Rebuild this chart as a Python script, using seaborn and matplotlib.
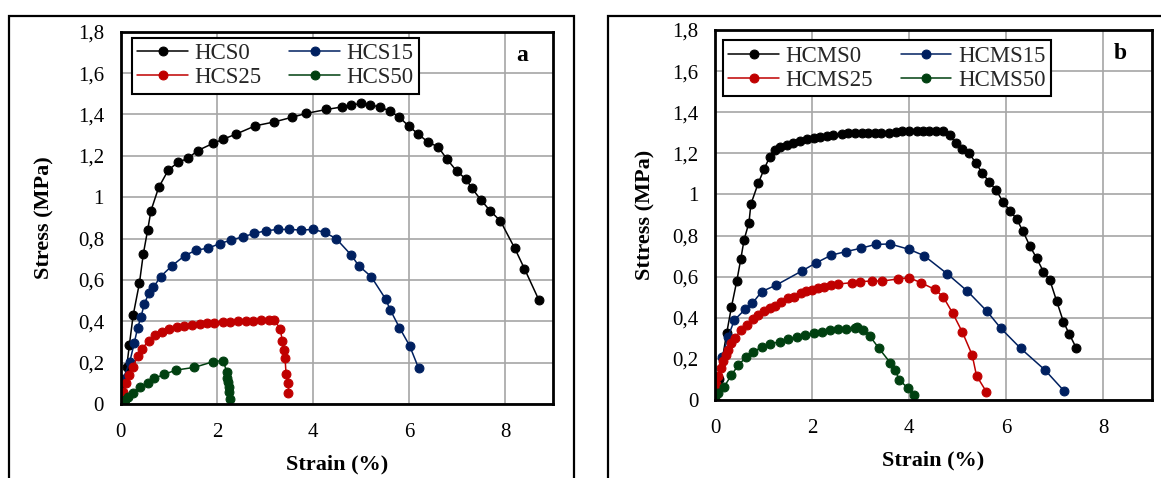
import matplotlib
matplotlib.use("Agg")
import matplotlib.pyplot as plt
from matplotlib.patches import Rectangle
from matplotlib.ticker import FuncFormatter
import seaborn as sns

# ---------------- data (panel a) ----------------
hcs0_x = [0, 0.125, 0.18, 0.26, 0.39, 0.47, 0.56, 0.63, 0.79, 0.99, 1.19, 1.40, 1.60, 1.92, 2.13,
          2.40, 2.80, 3.18, 3.56, 3.86, 4.28, 4.60, 4.79, 5.0, 5.19, 5.39, 5.60, 5.80, 5.99, 6.19,
          6.40, 6.60, 6.79, 6.99, 7.19, 7.30, 7.50, 7.69, 7.90, 8.20, 8.40, 8.70]
hcs0_y = [0, 0.18, 0.285, 0.43, 0.585, 0.725, 0.84, 0.935, 1.047, 1.131, 1.168, 1.188, 1.225, 1.26,
          1.28, 1.305, 1.345, 1.363, 1.386, 1.405, 1.424, 1.436, 1.445, 1.453, 1.445, 1.437, 1.416,
          1.386, 1.344, 1.305, 1.265, 1.244, 1.183, 1.126, 1.086, 1.045, 0.985, 0.933, 0.885, 0.752,
          0.654, 0.503]

hcs15_x = [0, 0.05, 0.19, 0.28, 0.35, 0.42, 0.49, 0.59, 0.68, 0.83, 1.07, 1.33, 1.57, 1.81, 2.06,
           2.30, 2.54, 2.78, 3.03, 3.27, 3.51, 3.76, 4.0, 4.24, 4.48, 4.80, 4.95, 5.21, 5.51, 5.61,
           5.80, 6.01, 6.20]
hcs15_y = [0, 0.12, 0.205, 0.293, 0.366, 0.419, 0.483, 0.538, 0.564, 0.616, 0.669, 0.717, 0.744,
           0.753, 0.775, 0.793, 0.808, 0.825, 0.838, 0.844, 0.844, 0.841, 0.844, 0.83, 0.80, 0.719,
           0.669, 0.616, 0.508, 0.454, 0.369, 0.282, 0.172]

hcs25_x = [0, 0.055, 0.11, 0.18, 0.26, 0.35, 0.44, 0.58, 0.72, 0.85, 1.01, 1.17, 1.32, 1.48, 1.64,
           1.79, 1.95, 2.12, 2.28, 2.45, 2.61, 2.76, 2.92, 3.08, 3.19, 3.32, 3.36, 3.39, 3.42, 3.44,
           3.49, 3.49]
hcs25_y = [0, 0.06, 0.10, 0.14, 0.18, 0.23, 0.265, 0.306, 0.334, 0.35, 0.361, 0.371, 0.377, 0.384,
           0.387, 0.39, 0.394, 0.398, 0.398, 0.40, 0.40, 0.40, 0.405, 0.405, 0.405, 0.365, 0.306,
           0.261, 0.221, 0.145, 0.10, 0.055]

hcs50_x = [0, 0.09, 0.16, 0.26, 0.40, 0.56, 0.70, 0.90, 1.15, 1.53, 1.93, 2.125, 2.21, 2.22, 2.24,
           2.26, 2.26, 2.28]
hcs50_y = [0, 0.019, 0.035, 0.051, 0.081, 0.103, 0.124, 0.143, 0.164, 0.177, 0.205, 0.21, 0.156,
           0.124, 0.108, 0.081, 0.06, 0.023]

# ---------------- data (panel b) ----------------
hcms0_x = [0, 0.08, 0.24, 0.34, 0.45, 0.53, 0.60, 0.70, 0.74, 0.89, 1.01, 1.13, 1.24, 1.34, 1.48,
           1.60, 1.75, 1.89, 2.03, 2.16, 2.30, 2.44, 2.61, 2.75, 2.88, 3.02, 3.16, 3.30, 3.43, 3.58,
           3.72, 3.86, 4.0, 4.16, 4.29, 4.42, 4.55, 4.70, 4.84, 4.96, 5.10, 5.24, 5.38, 5.51, 5.65,
           5.79, 5.94, 6.08, 6.22, 6.34, 6.49, 6.63, 6.77, 6.90, 7.04, 7.18, 7.30, 7.45]
hcms0_y = [0, 0.10, 0.324, 0.454, 0.58, 0.684, 0.78, 0.863, 0.953, 1.054, 1.122, 1.184, 1.216,
           1.232, 1.24, 1.249, 1.26, 1.268, 1.276, 1.281, 1.284, 1.289, 1.292, 1.297, 1.297, 1.30,
           1.30, 1.30, 1.30, 1.297, 1.305, 1.309, 1.309, 1.309, 1.309, 1.309, 1.309, 1.309, 1.289,
           1.249, 1.219, 1.20, 1.151, 1.103, 1.062, 1.022, 0.962, 0.921, 0.879, 0.824, 0.749, 0.689,
           0.624, 0.584, 0.482, 0.381, 0.321, 0.251]

hcms15_x = [0, 0.02, 0.15, 0.27, 0.40, 0.62, 0.77, 0.96, 1.26, 1.80, 2.09, 2.40, 2.70, 3.0, 3.31,
            3.61, 4.0, 4.31, 4.79, 5.20, 5.60, 5.89, 6.30, 6.80, 7.19]
hcms15_y = [0, 0.05, 0.208, 0.308, 0.389, 0.441, 0.47, 0.527, 0.559, 0.629, 0.668, 0.705, 0.722,
            0.738, 0.757, 0.759, 0.733, 0.702, 0.613, 0.53, 0.433, 0.349, 0.251, 0.146, 0.045]

hcms25_x = [0, 0.03, 0.07, 0.12, 0.16, 0.22, 0.27, 0.34, 0.41, 0.53, 0.65, 0.78, 0.89, 1.01, 1.13,
            1.24, 1.37, 1.51, 1.63, 1.77, 1.88, 1.99, 2.12, 2.25, 2.39, 2.54, 2.82, 2.99, 3.23,
            3.45, 3.78, 4.0, 4.24, 4.53, 4.70, 4.90, 5.10, 5.30, 5.39, 5.59]
hcms25_y = [0, 0.08, 0.117, 0.154, 0.19, 0.22, 0.243, 0.276, 0.30, 0.34, 0.365, 0.392, 0.413, 0.435,
            0.446, 0.457, 0.478, 0.495, 0.503, 0.519, 0.53, 0.535, 0.543, 0.551, 0.559, 0.564,
            0.571, 0.576, 0.579, 0.579, 0.589, 0.595, 0.571, 0.538, 0.503, 0.422, 0.329, 0.219,
            0.118, 0.041]

hcms50_x = [0, 0.07, 0.19, 0.34, 0.48, 0.64, 0.79, 0.96, 1.13, 1.34, 1.51, 1.68, 1.85, 2.03, 2.20,
            2.37, 2.54, 2.71, 2.88, 2.92, 3.06, 3.19, 3.38, 3.61, 3.71, 3.80, 3.98, 4.11]
hcms50_y = [0, 0.036, 0.065, 0.122, 0.17, 0.208, 0.235, 0.256, 0.272, 0.284, 0.295, 0.305, 0.315,
            0.324, 0.331, 0.339, 0.344, 0.347, 0.35, 0.357, 0.34, 0.311, 0.251, 0.182, 0.146,
            0.097, 0.057, 0.024]

labels_a = ["HCS0", "HCS15", "HCS25", "HCS50"]
labels_b = ["HCMS0", "HCMS15", "HCMS25", "HCMS50"]
colors = ["#000000", "#002060", "#C00000", "#004010"]
x_ticks = [0, 2, 4, 6, 8]
y_ticks = [0, 0.2, 0.4, 0.6, 0.8, 1.0, 1.2, 1.4, 1.6, 1.8]

sns.set_theme(style="white")
plt.rcParams["font.family"] = ["Liberation Serif", "DejaVu Serif"]

W, H = 1161, 478
fig = plt.figure(figsize=(W / 100, H / 100), dpi=100)
fig.patch.set_facecolor("white")

ax_a = fig.add_axes([120.7 / W, (H - 404) / H, 432.6 / W, 372.3 / H])
ax_b = fig.add_axes([715 / W, (H - 400) / H, 436.7 / W, 370 / H])

# outer frames
fig.add_artist(Rectangle((9 / W, -0.1), (574 - 9) / W, 0.1 + (H - 15.7) / H,
                         transform=fig.transFigure, fill=False, lw=1.6, edgecolor="black"))
fig.add_artist(Rectangle((607.5 / W, -0.1), 0.6, 0.1 + (H - 15.7) / H,
                         transform=fig.transFigure, fill=False, lw=1.6, edgecolor="black"))

comma = FuncFormatter(lambda v, p: ("%g" % round(v, 2)).replace(".", ","))

def draw(ax, series, labels, ylabel, letter, leg_anchor, ylabelpad):
    for (xs, ys), lab, col in zip(series, labels, colors):
        sns.lineplot(x=xs, y=ys, ax=ax, sort=False, estimator=None, color=col, lw=1.1,
                     marker="o", markersize=6.4, markeredgecolor=col, legend=False)
    lines = ax.get_lines()
    order = [0, 2, 1, 3]
    leg = ax.legend([lines[i] for i in order], [labels[i] for i in order], ncol=2,
                    loc="upper left", bbox_to_anchor=leg_anchor, borderaxespad=0,
                    fontsize=16.5, frameon=True, fancybox=False, framealpha=1,
                    edgecolor="black", handlelength=2.2, handletextpad=0.3,
                    columnspacing=1.2, labelspacing=0.12, borderpad=0.25)
    leg.get_frame().set_linewidth(1.5)
    ax.set_xlim(0, 9)
    ax.set_ylim(0, 1.8)
    ax.set_xticks(x_ticks)
    ax.set_yticks(y_ticks)
    ax.yaxis.set_major_formatter(comma)
    ax.grid(True, color="#A6A6A6", lw=1.2)
    ax.set_axisbelow(True)
    for s in ax.spines.values():
        s.set_color("black")
        s.set_linewidth(2.0)
    ax.tick_params(axis="both", direction="in", length=6, width=1.2, color="black",
                   labelsize=15, labelcolor="black")
    ax.tick_params(axis="x", pad=14)
    ax.tick_params(axis="y", pad=12)
    ax.set_xlabel("Strain (%)", fontsize=16, fontweight="bold", labelpad=9, color="black")
    ax.set_ylabel(ylabel, fontsize=16, fontweight="bold", labelpad=ylabelpad, color="black")
    ax.text(0.928, 0.937, letter, transform=ax.transAxes, fontsize=17, fontweight="bold",
            ha="center", va="center", color="black")

draw(ax_a, [(hcs0_x, hcs0_y), (hcs15_x, hcs15_y), (hcs25_x, hcs25_y), (hcs50_x, hcs50_y)],
     labels_a, "Stress (MPa)", "a", (0.0254, 0.984), 17)
draw(ax_b, [(hcms0_x, hcms0_y), (hcms15_x, hcms15_y), (hcms25_x, hcms25_y), (hcms50_x, hcms50_y)],
     labels_b, "Sttress (MPa)", "b", (0.0176, 0.973), 12)

fig.savefig("out.png", dpi=100, facecolor="white")
